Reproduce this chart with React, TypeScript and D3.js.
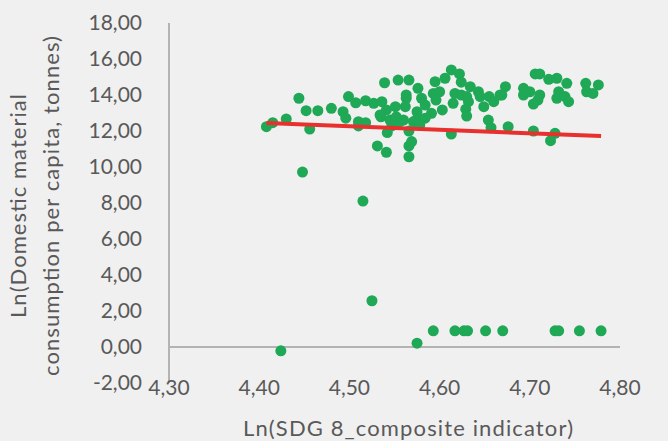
import * as d3 from 'd3';

// Ln(SDG 8 composite indicator) / Ln(DMC per capita) pairs
const X_VALUES = [
  4.408, 4.415, 4.430, 4.444, 4.452, 4.456, 4.465, 4.480, 4.499, 4.493,
  4.496, 4.507, 4.510, 4.510, 4.518, 4.518, 4.527, 4.536, 4.539, 4.554,
  4.566, 4.576, 4.535, 4.541, 4.542, 4.551, 4.545, 4.531, 4.541, 4.566,
  4.569, 4.566, 4.566, 4.563, 4.562, 4.575, 4.560, 4.571, 4.595, 4.606,
  4.613, 4.622, 4.624, 4.634, 4.563, 4.580, 4.593, 4.600, 4.596, 4.584,
  4.591, 4.603, 4.556, 4.574, 4.584, 4.617, 4.615, 4.624, 4.630, 4.632,
  4.643, 4.645, 4.629, 4.630, 4.649, 4.655, 4.660, 4.667, 4.673, 4.654,
  4.657, 4.613, 4.676, 4.706, 4.711, 4.721, 4.730, 4.741, 4.669, 4.693,
  4.693, 4.700, 4.711, 4.709, 4.704, 4.732, 4.730, 4.739, 4.743, 4.762,
  4.776, 4.763, 4.770, 4.704, 4.728, 4.723, 4.534, 4.552, 4.547, 4.578,
  4.448, 4.515, 4.525, 4.424, 4.575,
  4.593, 4.617, 4.627, 4.631, 4.651, 4.670, 4.728, 4.732, 4.755, 4.779,
];

const Y_VALUES = [
  12.24, 12.46, 12.67, 13.82, 13.13, 12.11, 13.13, 13.26, 13.91, 13.07,
  12.71, 13.57, 12.52, 12.28, 12.46, 13.68, 13.54, 13.63, 14.68, 14.83,
  14.83, 14.37, 12.79, 13.17, 11.91, 13.35, 12.61, 11.17, 10.82, 11.17,
  11.41, 10.57, 12.00, 13.82, 13.35, 13.07, 12.61, 12.52, 14.74, 14.93,
  15.39, 15.17, 14.71, 14.46, 14.00, 13.82, 14.09, 14.18, 13.72, 13.44,
  12.98, 13.17, 12.52, 12.61, 12.71, 14.09, 13.54, 14.00, 13.91, 13.63,
  14.18, 13.91, 13.21, 12.83, 13.35, 13.91, 13.63, 14.00, 14.46, 12.61,
  12.18, 11.83, 12.24, 15.17, 15.17, 14.87, 14.93, 14.65, 14.00, 14.37,
  14.00, 14.18, 14.00, 13.72, 13.50, 14.18, 13.82, 13.91, 13.63, 14.65,
  14.56, 14.18, 14.09, 12.00, 11.87, 11.46, 12.89, 12.79, 12.28, 12.33,
  9.72, 8.11, 2.57, -0.21, 0.21,
  0.90, 0.90, 0.90, 0.90, 0.90, 0.90, 0.90, 0.90, 0.90, 0.90,
];

const X_TICKS = [4.3, 4.4, 4.5, 4.6, 4.7, 4.8];
const Y_TICKS = [-2, 0, 2, 4, 6, 8, 10, 12, 14, 16, 18];

// linear trend line ends
const TREND_X = [4.408, 4.779];
const TREND_Y = [12.44, 11.72];

const X_TITLE = 'Ln(SDG 8_composite indicator)';
const Y_TITLE = ['Ln(Domestic material', 'consumption per capita, tonnes)'];

const locale = d3.formatLocale({
  decimal: ',',
  thousands: '.',
  grouping: [3],
  currency: ['', ''],
  minus: '-',
});
const fmt = locale.format('.2f');

export default function App() {
  const width = 668;
  const height = 441;

  const x = d3.scaleLinear().domain([4.3, 4.8]).range([169, 620]);
  const y = d3.scaleLinear().domain([-2, 18]).range([383, 23]);

  const points = X_VALUES.map((v, i) => ({ x: v, y: Y_VALUES[i] }));
  const trend = TREND_X.map((v, i) => [v, TREND_Y[i]] as [number, number]);
  const line = d3.line<[number, number]>().x((d) => x(d[0])).y((d) => y(d[1]));

  const font = 'Lato, "Open Sans", sans-serif';
  const textColor = '#595959';

  return (
    <svg
      width={width}
      height={height}
      style={{ position: 'absolute', left: 0, top: 0, display: 'block', background: '#f0f0f0' }}
    >
      <rect width={width} height={height} fill="#f0f0f0" />

      {/* axes */}
      <line x1={x(4.3)} x2={x(4.3)} y1={y(18)} y2={y(-2)} stroke="#b3b3b3" strokeWidth="2" />
      <line x1={x(4.3)} x2={x(4.8)} y1={y(0)} y2={y(0)} stroke="#b3b3b3" strokeWidth="2" />

      {Y_TICKS.map((t) => (
        <text
          key={`y${t}`}
          x={142}
          y={y(t)}
          dy="0.35em"
          textAnchor="end"
          fontFamily={font}
          fontSize="21"
          fill={textColor}
        >
          {fmt(t)}
        </text>
      ))}

      {X_TICKS.map((t) => (
        <text
          key={`x${t}`}
          x={x(t)}
          y={388}
          dy="0.35em"
          textAnchor="middle"
          fontFamily={font}
          fontSize="21"
          fill={textColor}
        >
          {fmt(t)}
        </text>
      ))}

      {/* points */}
      {points.map((d, i) => (
        <circle key={i} cx={x(d.x)} cy={y(d.y)} r={5.5} fill="#1fa855" />
      ))}

      {/* trend line */}
      <path d={line(trend) ?? ''} fill="none" stroke="#e8312e" strokeWidth="4" />

      {/* titles */}
      <text
        x={408}
        y={428}
        dy="0.35em"
        textAnchor="middle"
        fontFamily={font}
        fontSize="22"
        textLength={330}
        lengthAdjust="spacing"
        fill={textColor}
      >
        {X_TITLE}
      </text>
      <g transform="translate(0,206) rotate(-90)">
        {Y_TITLE.map((s, i) => (
          <text
            key={s}
            x={0}
            y={18 + i * 33}
            dy="0.35em"
            textAnchor="middle"
            fontFamily={font}
            fontSize="22"
            textLength={i === 0 ? 224 : 340}
            lengthAdjust="spacing"
            fill={textColor}
          >
            {s}
          </text>
        ))}
      </g>
    </svg>
  );
}
